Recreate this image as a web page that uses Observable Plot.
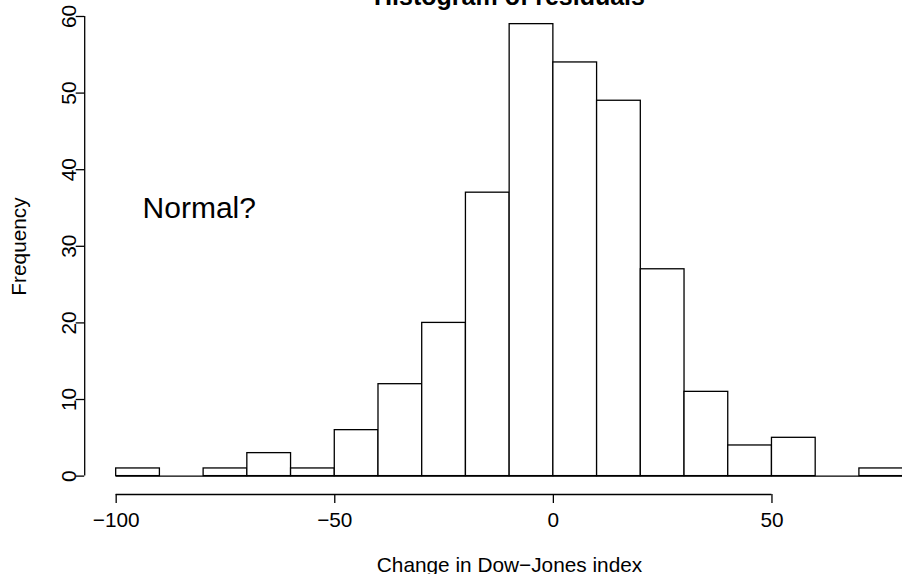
<!DOCTYPE html>
<html>
<head>
<meta charset="utf-8">
<script src="https://cdn.jsdelivr.net/npm/d3@7"></script>
<script src="https://cdn.jsdelivr.net/npm/@observablehq/plot@0.6"></script>
<style>
  html, body { margin: 0; padding: 0; background: #fff; overflow: hidden; }
  #chart { width: 902px; height: 574px; overflow: hidden; }
</style>
</head>
<body>
<div id="chart"></div>
<script>
// ---- data ----
const binEdges = [-100, -90, -80, -70, -60, -50, -40, -30, -20, -10, 0, 10, 20, 30, 40, 50, 60, 70, 80];
const counts   = [1, 0, 1, 3, 1, 6, 12, 20, 37, 59, 54, 49, 27, 11, 4, 5, 0, 1];
const xTicks = [-100, -50, 0, 50];
const yTicks = [0, 10, 20, 30, 40, 50, 60];
const titleText = "Histogram of residuals";
const xLabelText = "Change in Dow\u2212Jones index";
const yLabelText = "Frequency";
const annotations = [{x: -81, y: 35, label: "Normal?"}];

const bins = counts.map((c, i) => ({x1: binEdges[i], x2: binEdges[i + 1], count: c}));

// R-style 4% extension of the data range for the plot region
const xMin = binEdges[0], xMax = binEdges[binEdges.length - 1];
const xPad = (xMax - xMin) * 0.04;
const yPad = (yTicks[yTicks.length - 1] - 0) * 0.04;
const xDomain = [xMin - xPad, xMax + xPad];
const yDomain = [0 - yPad, yTicks[yTicks.length - 1] + yPad];

const W = 902, H = 574;
const mLeft = 84.2, mBottom = 80, mTop = 0, mRight = 0;
const fs = 20.8;
const font = "'Liberation Sans', Arial, Helvetica, sans-serif";
const frameCenterX = (mLeft + (W - mRight)) / 2;
const frameCenterY = (mTop + (H - mBottom)) / 2;
const plotCenterX = 509;
const sw = 1.3;
const minus = d => String(d).replace("-", "\u2212");

const chart = Plot.plot({
  width: W,
  height: H,
  marginLeft: mLeft,
  marginRight: mRight,
  marginTop: mTop,
  marginBottom: mBottom,
  style: {fontFamily: font, fontSize: fs + "px", background: "white", color: "black"},
  x: {domain: xDomain, range: [84.2, 934.1]},
  y: {domain: yDomain, range: [494, -2.4]},
  marks: [
    Plot.ruleY([0], {x1: binEdges[0], x2: binEdges[binEdges.length - 1], stroke: "black", strokeWidth: sw}),
    Plot.rectY(bins.filter(d => d.count > 0), {x1: "x1", x2: "x2", y: "count", fill: "white", stroke: "black", strokeWidth: sw}),
    // axes
    Plot.ruleY([yDomain[0]], {x1: xTicks[0], x2: xTicks[xTicks.length - 1], stroke: "black", strokeWidth: sw}),
    Plot.ruleX([xDomain[0]], {y1: yTicks[0], y2: yTicks[yTicks.length - 1], stroke: "black", strokeWidth: sw}),
    Plot.axisX({ticks: xTicks, tickSize: 9, tickPadding: 9.2, tickFormat: minus, label: null, strokeWidth: sw, fontSize: fs, fill: "black"}),
    Plot.axisY({ticks: yTicks, tickSize: 8.5, tickPadding: 0.7, tickRotate: -90, tickFormat: minus, label: null, strokeWidth: sw, fontSize: fs, fill: "black"}),
    // annotation
    Plot.text(annotations, {x: "x", y: "y", text: "label", fontSize: 30, fill: "black", textAnchor: "middle"}),
    // titles
    Plot.text([titleText], {frameAnchor: "top", dx: plotCenterX - frameCenterX, dy: 4.5, textAnchor: "middle", lineAnchor: "bottom", fontSize: 25, fontWeight: "bold", fill: "black"}),
    Plot.text([xLabelText], {frameAnchor: "bottom", dx: plotCenterX - frameCenterX, dy: 77.5, textAnchor: "middle", lineAnchor: "bottom", fontSize: fs, fill: "black"}),
    Plot.text([yLabelText], {frameAnchor: "left", dx: 18.8 - mLeft, dy: 246 - frameCenterY, textAnchor: "middle", lineAnchor: "middle", rotate: -90, fontSize: fs, fill: "black"})
  ]
});
document.getElementById("chart").appendChild(chart);
</script>
</body>
</html>
